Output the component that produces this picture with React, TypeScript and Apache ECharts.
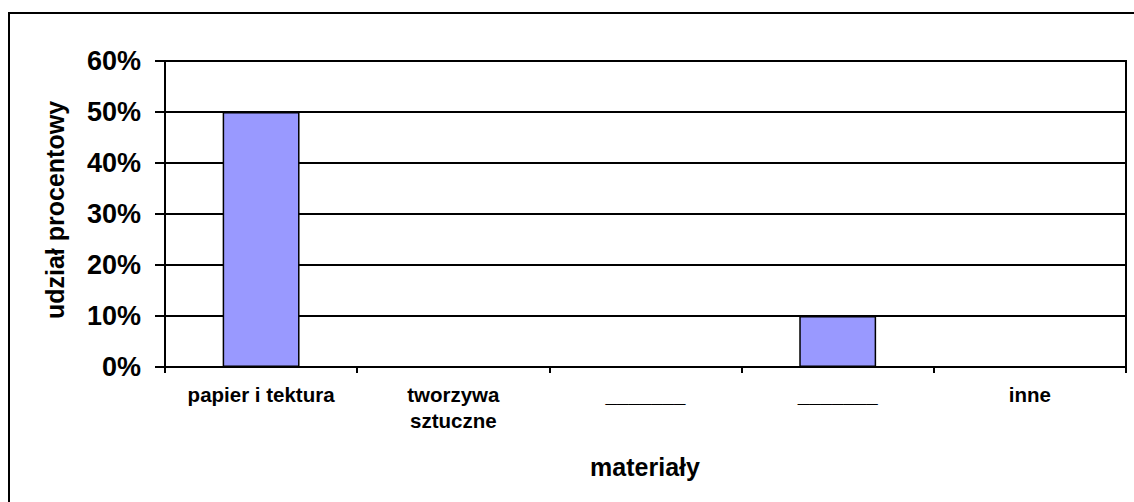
import React, { useEffect, useRef } from "react";
import * as echarts from "echarts";

const categories = ["papier i tektura", "tworzywa\nsztuczne", "_______", "_______", "inne"];
const shares = [50, 0, 0, 10, 0];
const yMax = 60;
const yStep = 10;
const xTitle = "materiały";
const yTitle = "udział procentowy";

const FONT = "'Liberation Sans', Arial, Helvetica, sans-serif";

export default function App() {
  const ref = useRef<HTMLDivElement>(null);
  useEffect(() => {
    if (!ref.current) return;
    const chart = echarts.init(ref.current, undefined, { renderer: "svg" });
    chart.setOption({
      animation: false,
      backgroundColor: "#ffffff",
      grid: {
        left: 165,
        right: 8,
        top: 61,
        bottom: 135,
        show: true,
        borderColor: "#000",
        borderWidth: 2,
        backgroundColor: "transparent",
      },
      xAxis: {
        type: "category",
        data: categories,
        boundaryGap: true,
        axisLine: { lineStyle: { color: "#000", width: 2 } },
        axisTick: { show: true, length: 6, interval: 0, lineStyle: { color: "#000", width: 2 } },
        axisLabel: {
          interval: 0,
          margin: 14,
          color: "#000",
          fontFamily: FONT,
          fontWeight: "bold",
          fontSize: 20.5,
          lineHeight: 26,
        },
        splitLine: { show: false },
      },
      yAxis: {
        type: "value",
        min: 0,
        max: yMax,
        interval: yStep,
        axisLine: { show: true, lineStyle: { color: "#000", width: 2 } },
        axisTick: { show: true, length: 10, lineStyle: { color: "#000", width: 2 } },
        axisLabel: {
          formatter: "{value}%",
          margin: 24,
          color: "#000",
          fontFamily: FONT,
          fontWeight: "bold",
          fontSize: 27,
        },
        splitLine: { show: true, lineStyle: { color: "#000", width: 2 } },
      },
      series: [
        {
          type: "bar",
          data: shares,
          barWidth: "40%",
          itemStyle: { color: "#9999FF", borderColor: "#000", borderWidth: 1.5 },
        },
      ],
      graphic: [
        {
          type: "rect",
          shape: { x: 9, y: 13, width: 1200, height: 600 },
          style: { fill: "none", stroke: "#000", lineWidth: 2 },
          silent: true,
        },
        {
          type: "text",
          x: 645,
          y: 467,
          style: {
            text: xTitle,
            fill: "#000",
            font: `bold 25px ${FONT}`,
            textAlign: "center",
            textVerticalAlign: "middle",
          },
        },
        {
          type: "text",
          x: 55,
          y: 210,
          rotation: Math.PI / 2,
          style: {
            text: yTitle,
            fill: "#000",
            font: `bold 25px ${FONT}`,
            textAlign: "center",
            textVerticalAlign: "middle",
          },
        },
      ],
    });
    return () => chart.dispose();
  }, []);
  return (
    <div
      ref={ref}
      style={{ position: "fixed", left: 0, top: 0, width: 1134, height: 502, background: "#fff" }}
    />
  );
}
